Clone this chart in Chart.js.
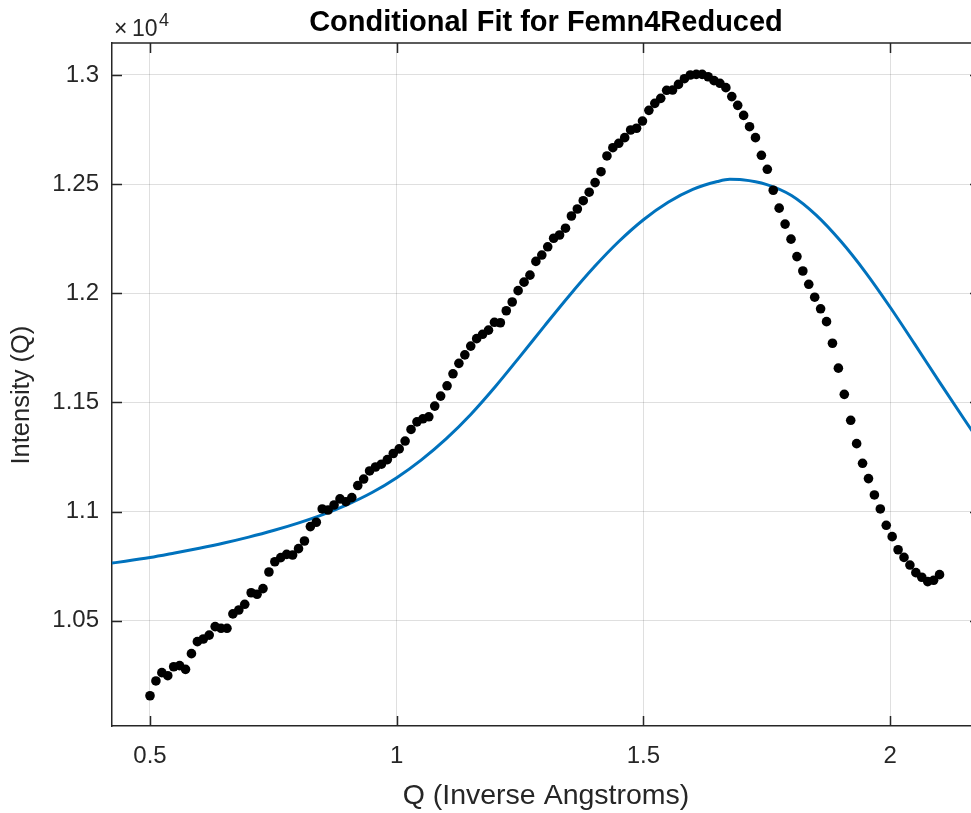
<!DOCTYPE html>
<html>
<head>
<meta charset="utf-8">
<script src="https://cdn.jsdelivr.net/npm/chart.js@4.4.0/dist/chart.umd.min.js"></script>
<style>
html,body{margin:0;padding:0;background:#fff;overflow:hidden;width:971px;height:813px}
#wrap{width:990px;height:813px}
</style>
</head>
<body>
<div id="wrap"><canvas id="c" width="990" height="813"></canvas></div>
<script>
// Measured data (Q in inverse Angstroms, intensity in counts)
const qData = [
0.500,0.512,0.524,0.536,0.548,0.560,0.572,0.584,0.596,0.608,
0.620,0.632,0.644,0.656,0.668,0.680,0.692,0.705,0.717,0.729,
0.741,0.753,0.765,0.777,0.789,0.801,0.813,0.825,0.837,0.849,
0.861,0.873,0.885,0.897,0.909,0.921,0.933,0.945,0.957,0.969,
0.981,0.993,1.005,1.017,1.029,1.041,1.053,1.065,1.077,1.089,
1.102,1.114,1.126,1.138,1.150,1.162,1.174,1.186,1.198,1.210,
1.222,1.234,1.246,1.258,1.270,1.282,1.294,1.306,1.318,1.330,
1.342,1.354,1.366,1.378,1.390,1.402,1.414,1.426,1.438,1.450,
1.462,1.474,1.486,1.498,1.511,1.523,1.535,1.547,1.559,1.571,
1.583,1.595,1.607,1.619,1.631,1.643,1.655,1.667,1.679,1.691,
1.703,1.715,1.727,1.739,1.751,1.763,1.775,1.787,1.799,1.811,
1.823,1.835,1.847,1.859,1.871,1.883,1.895,1.907,1.920,1.932,
1.944,1.956,1.968,1.980,1.992,2.004,2.016,2.028,2.040,2.052,
2.064,2.076,2.088,2.100
];
const intensityData = [
10156,10224,10262,10248,10289,10294,10277,10349,10404,10416,
10434,10473,10465,10465,10531,10549,10575,10628,10621,10647,
10723,10770,10789,10804,10801,10830,10865,10931,10951,11012,
11007,11030,11058,11045,11064,11119,11149,11186,11204,11217,
11238,11266,11287,11323,11376,11411,11425,11434,11483,11529,
11576,11631,11679,11718,11758,11792,11812,11831,11867,11865,
11920,11960,12012,12051,12083,12146,12175,12213,12252,12267,
12298,12354,12386,12424,12463,12507,12557,12629,12667,12687,
12713,12748,12756,12789,12838,12870,12893,12930,12931,12957,
12983,13000,13003,13003,12992,12974,12962,12942,12901,12861,
12815,12763,12713,12632,12568,12472,12390,12317,12248,12168,
12102,12041,11982,11929,11870,11771,11657,11537,11418,11311,
11221,11151,11076,11012,10937,10885,10825,10790,10755,10720,
10699,10679,10685,10711
];
// Conditional fit curve
const fitQ = [
0.42,0.45,0.50,0.55,0.60,0.65,0.70,0.75,0.80,0.85,
0.90,0.95,1.00,1.05,1.10,1.15,1.20,1.25,1.30,1.35,
1.40,1.45,1.50,1.55,1.60,1.65,1.675,1.70,1.75,1.80,
1.85,1.90,1.95,2.00,2.05,2.10,2.15,2.20
];
const fitIntensity = [
10763,10772,10789,10810,10832,10856,10883,10913,10947,10986,
11032,11087,11155,11237,11333,11445,11573,11711,11852,11990,
12120,12237,12337,12417,12476,12512,12522,12520,12498,12448,
12358,12238,12096,11936,11766,11593,11423,11255
];
// Axis ticks
const xTicks = [0.5, 1, 1.5, 2];
const xTickLabels = ['0.5', '1', '1.5', '2'];
const yTicks = [10500, 11000, 11500, 12000, 12500, 13000];
const yTickLabels = ['1.05', '1.1', '1.15', '1.2', '1.25', '1.3'];
const titleText = 'Conditional Fit for Femn4Reduced';
const xTitle = 'Q (Inverse Angstroms)';
const yTitle = 'Intensity (Q)';

const FONT = '"Liberation Sans", Arial, Helvetica, sans-serif';
const AX = '#262626';

const framePlugin = {
  id: 'frame',
  afterDraw(chart) {
    const {ctx, chartArea: {left, right, top, bottom}, scales: {x, y}} = chart;
    ctx.save();
    ctx.strokeStyle = AX;
    ctx.lineWidth = 1.5;
    ctx.beginPath();
    ctx.moveTo(left, top); ctx.lineTo(right, top);
    ctx.moveTo(right, top); ctx.lineTo(right, bottom);
    ctx.stroke();
    ctx.beginPath();
    const tl = 10;
    xTicks.forEach(v => {
      const px = Math.round(x.getPixelForValue(v)) + 0.5;
      ctx.moveTo(px, bottom); ctx.lineTo(px, bottom - tl);
      ctx.moveTo(px, top); ctx.lineTo(px, top + tl);
    });
    yTicks.forEach(v => {
      const py = Math.round(y.getPixelForValue(v)) + 0.5;
      ctx.moveTo(left, py); ctx.lineTo(left + tl, py);
      ctx.moveTo(right, py); ctx.lineTo(right - tl, py);
    });
    ctx.stroke();
    // exponent label  x10^4
    ctx.fillStyle = AX;
    ctx.textBaseline = 'alphabetic';
    ctx.textAlign = 'left';
    ctx.font = '23px ' + FONT;
    ctx.fillText('\u00d7', left + 2, top - 7);
    ctx.fillText('10', left + 20, top - 7);
    ctx.font = '18px ' + FONT;
    ctx.fillText('4', left + 47, top - 17);
    ctx.restore();
  }
};

new Chart(document.getElementById('c'), {
  type: 'scatter',
  data: {
    datasets: [
      {
        label: 'Data',
        data: qData.map((q, i) => ({x: q, y: intensityData[i]})),
        pointRadius: 4.8,
        pointBackgroundColor: '#000',
        pointBorderWidth: 0,
        showLine: false
      },
      {
        type: 'line',
        label: 'Fit',
        data: fitQ.map((q, i) => ({x: q, y: fitIntensity[i]})),
        borderColor: '#0072BD',
        borderWidth: 3,
        pointRadius: 0,
        fill: false,
        cubicInterpolationMode: 'monotone'
      }
    ]
  },
  options: {
    responsive: false,
    animation: false,
    devicePixelRatio: 1,
    layout: {padding: {left: 0, right: 10, top: 0, bottom: 0}},
    plugins: {
      legend: {display: false},
      tooltip: {enabled: false},
      title: {
        display: true,
        text: titleText,
        fullSize: false,
        color: '#000',
        font: {family: FONT, size: 29, weight: 'bold', lineHeight: 1.2},
        padding: {top: 6, bottom: 2.2}
      }
    },
    scales: {
      x: {
        type: 'linear',
        min: 0.423,
        max: 2.182,
        afterBuildTicks: s => { s.ticks = xTicks.map(v => ({value: v})); },
        afterFit: s => { s.height = 87; },
        ticks: {
          autoSkip: false, maxRotation: 0,
          color: AX, padding: 16,
          font: {family: FONT, size: 24},
          callback: (v) => xTickLabels[xTicks.indexOf(v)]
        },
        grid: {color: 'rgba(38,38,38,0.15)', lineWidth: 1, drawTicks: false},
        border: {color: AX, width: 1.5},
        title: {
          display: true, text: xTitle, color: AX,
          font: {family: FONT, size: 28.5, lineHeight: 1.2},
          padding: {top: 0, bottom: 0}
        }
      },
      y: {
        type: 'linear',
        min: 10017.5,
        max: 13146.6,
        afterBuildTicks: s => { s.ticks = yTicks.map(v => ({value: v})); },
        afterFit: s => { s.width = 112; },
        ticks: {
          autoSkip: false,
          color: AX, padding: 13,
          font: {family: FONT, size: 24},
          callback: (v) => yTickLabels[yTicks.indexOf(v)]
        },
        grid: {color: 'rgba(38,38,38,0.15)', lineWidth: 1, drawTicks: false},
        border: {color: AX, width: 1.5},
        title: {
          display: true, text: yTitle + '   ', color: AX,
          font: {family: FONT, size: 25.5, lineHeight: 1.2},
          padding: {top: 7, bottom: 0}
        }
      }
    }
  },
  plugins: [framePlugin]
});
</script>
</body>
</html>
